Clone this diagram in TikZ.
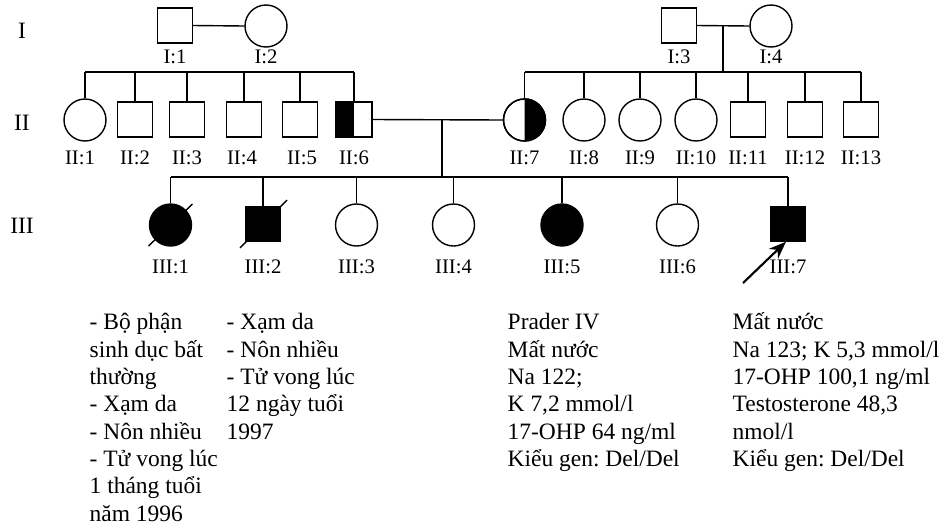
\documentclass[tikz,border=0pt]{standalone}
\usepackage{fontspec}
\setmainfont{Liberation Serif}
\usetikzlibrary{arrows.meta}
\frenchspacing
\begin{document}
\begin{tikzpicture}[x=0.75pt,y=-0.75pt, line width=1.05pt,
  male/.style={draw, rectangle, minimum size=26pt, inner sep=0pt},
  female/.style={draw, circle, minimum size=31.5pt, inner sep=0pt},
  aff/.style={fill=black},
  lab/.style={font=\fontsize{15.5}{16}\selectfont, inner sep=0pt},
  gen/.style={font=\fontsize{17.6}{20}\selectfont, inner sep=0pt},
  info/.style={font=\fontsize{17.6}{20.5}\selectfont, align=left, inner sep=0pt, anchor=base west},
  proband/.style={-{Stealth[length=13pt,width=10pt]}, line width=1.6pt}
]
\useasboundingbox (0,0) rectangle (947,529);

% generation labels
\node[gen] (gI) at (22,31) {I};
\node[gen] (gII) at (22,122.5) {II};
\node[gen] (gIII) at (22,226) {III};

% generation I
\node[male] (I1) at (175,25.5) {};
\node[female] (I2) at (266,26) {};
\node[male] (I3) at (679,25.5) {};
\node[female] (I4) at (771,26) {};
\draw (I1.east) -- (I2.west);
\draw (I3.east) -- (I4.west);

% generation II
\node[female] (II1) at (85,120) {};
\node[male] (II2) at (135,119.5) {};
\node[male] (II3) at (187,119.5) {};
\node[male] (II4) at (244,119.5) {};
\node[male] (II5) at (300,119.5) {};
\node[male] (II6) at (354,119.5) {};
\node[female] (II7) at (524.5,120) {};
\node[female] (II8) at (584,120) {};
\node[female] (II9) at (640,120) {};
\node[female] (II10) at (696,120) {};
\node[male] (II11) at (748,119.5) {};
\node[male] (II12) at (805,119.5) {};
\node[male] (II13) at (861,119.5) {};

% half-affected carriers
\fill (II6.north west) rectangle (II6.south);
\draw (II6.north west) rectangle (II6.south east);
\fill (II7.north) arc[start angle=90, end angle=-90, radius=15.75pt] -- cycle;
\draw (II7) circle[radius=15.75pt];

% sibship lines generation II
\coordinate (sibL) at (0,72);
\coordinate (sibR) at (0,72);
\draw (II1 |- sibL) -- (II6 |- sibL);
\foreach \n in {II1,II2,II3,II4,II5,II6} \draw (\n.north) -- (\n |- sibL);
\coordinate (dropR) at (723,25.5);
\draw (dropR) -- (dropR |- sibR);
\draw (II7 |- sibR) -- (II13 |- sibR);
\foreach \n in {II7,II8,II9,II10,II11,II12,II13} \draw (\n.north) -- (\n |- sibR);

% marriage II:6 x II:7
\draw (II6.east) -- (II7.west);
\coordinate (dropC) at (442,119.5);
\coordinate (sibIII) at (0,177);
\draw (dropC) -- (dropC |- sibIII);

% generation III
\node[female, aff] (III1) at (170.5,225) {};
\node[male, aff] (III2) at (263,224) {};
\node[female] (III3) at (356.5,225) {};
\node[female] (III4) at (453.5,225) {};
\node[female, aff] (III5) at (562,225) {};
\node[female] (III6) at (677.5,225) {};
\node[male, aff] (III7) at (788,223.7) {};
\draw (III1 |- sibIII) -- (III7 |- sibIII);
\foreach \n in {III1,III2,III3,III4,III5,III6,III7} \draw (\n.north) -- (\n |- sibIII);

% deceased marks
\draw ([shift={(-22,21)}]III1.center) -- ([shift={(22,-21)}]III1.center);
\draw ([shift={(-23,24)}]III2.center) -- ([shift={(24,-24)}]III2.center);

% proband arrow
\coordinate (arrtail) at (743,283);
\draw[proband] (arrtail) -- ([xshift=-1.5pt]III7.south);

% individual labels
\coordinate (lI) at (0,57);
\coordinate (lII) at (0,158);
\coordinate (lIII) at (0,267);
\node[lab] (I1l) at (I1 |- lI) {I:1};
\node[lab] (I2l) at (I2 |- lI) {I:2};
\node[lab] (I3l) at (I3 |- lI) {I:3};
\node[lab] (I4l) at (I4 |- lI) {I:4};
\node[lab] (II1l) at (80,158) {II:1};
\node[lab] (II2l) at (II2 |- lII) {II:2};
\node[lab] (II3l) at (II3 |- lII) {II:3};
\node[lab] (II4l) at (242,158) {II:4};
\node[lab] (II5l) at (302,158) {II:5};
\node[lab] (II6l) at (II6 |- lII) {II:6};
\node[lab] (II7l) at (II7 |- lII) {II:7};
\node[lab] (II8l) at (II8 |- lII) {II:8};
\node[lab] (II9l) at (II9 |- lII) {II:9};
\node[lab] (II10l) at (II10 |- lII) {II:10};
\node[lab] (II11l) at (II11 |- lII) {II:11};
\node[lab] (II12l) at (II12 |- lII) {II:12};
\node[lab] (II13l) at (II13 |- lII) {II:13};
\node[lab] (III1l) at (III1 |- lIII) {III:1};
\node[lab] (III2l) at (III2 |- lIII) {III:2};
\node[lab] (III3l) at (III3 |- lIII) {III:3};
\node[lab] (III4l) at (III4 |- lIII) {III:4};
\node[lab] (III5l) at (III5 |- lIII) {III:5};
\node[lab] (III6l) at (III6 |- lIII) {III:6};
\node[lab] (III7l) at (III7 |- lIII) {III:7};

% clinical notes (anchored at the baseline of their last line)
\node[info] (n1) at (89,521) {- Bộ phận\\sinh dục bất\\thường\\- Xạm da\\- Nôn nhiều\\- Tử vong lúc\\1 tháng tuổi\\năm 1996};
\node[info] (n2) at (226,439) {- Xạm da\\- Nôn nhiều\\- Tử vong lúc\\12 ngày tuổi\\1997};
\node[info] (n3) at (507,466.5) {Prader IV\\Mất nước\\Na 122;\\K 7,2 mmol/l\\17-OHP 64 ng/ml\\Kiểu gen: Del/Del};
\node[info] (n4) at (732,466.5) {Mất nước\\Na 123; K 5,3 mmol/l\\17-OHP 100,1 ng/ml\\Testosterone 48,3\\nmol/l\\Kiểu gen: Del/Del};
\end{tikzpicture}
\end{document}
